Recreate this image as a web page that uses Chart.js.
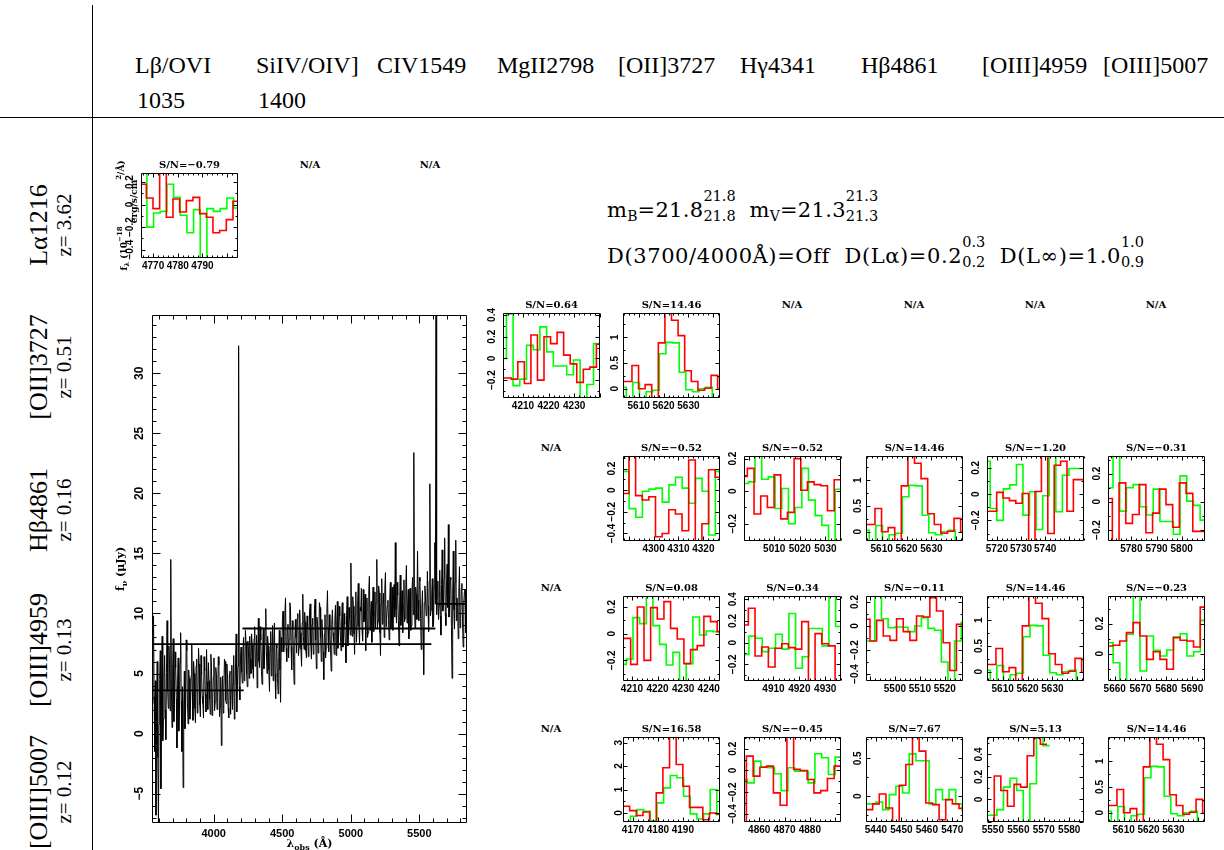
<!DOCTYPE html>
<html><head><meta charset="utf-8">
<script src="https://cdn.jsdelivr.net/npm/chart.js@4.4.1/dist/chart.umd.min.js"></script>
<style>
html,body{margin:0;padding:0;background:#fff;}
#wrap{position:relative;width:1224px;height:850px;overflow:hidden;background:#fff;}
#wrap canvas{position:absolute;}
.t{position:absolute;white-space:nowrap;color:#000;line-height:1;}
.hdr{font-family:"Liberation Serif";font-size:24px;}
.rl{font-family:"Liberation Serif";font-size:26px;transform:translate(-50%,-50%) rotate(-90deg);}
.rz{font-family:"Liberation Serif";font-size:21px;transform:translate(-50%,-50%) rotate(-90deg);}
.na{font-family:"DejaVu Serif";font-weight:bold;font-size:10px;transform:translate(-50%,-50%);}
.mag{font-family:"DejaVu Serif";font-size:21px;letter-spacing:0.3px;}
.mag2{letter-spacing:0.6px;}
.mag .sb{font-size:14px;vertical-align:-4px;line-height:1;letter-spacing:0;}
.stk{position:relative;display:inline-block;font-size:14.5px;line-height:1;letter-spacing:0;}
.stk .ph{visibility:hidden;}
.stk .u{position:absolute;left:0;top:-16px;}
.stk .d{position:absolute;left:0;top:4px;}
.ln{position:absolute;background:#000;}
</style></head>
<body><div id="wrap"></div>
<script>
// ---------------- text content ----------------
const headerLine1 = ['Lβ/OVI','SiIV/OIV]','CIV1549','MgII2798','[OII]3727','Hγ4341','Hβ4861','[OIII]4959','[OIII]5007'];
const headerLine2 = ['1035','1400','','','','','','',''];
const rowLines = ['Lα1216','[OII]3727','Hβ4861','[OIII]4959','[OIII]5007'];
const rowRedshifts = ['3.62','0.51','0.16','0.13','0.12'];

// ---------------- panel A : Lα z=3.62, Lβ/OVI ----------------
const pA_sn = 'S/N=−0.79';
const pA_x = [4765.1, 4804.4];
const pA_y = [-0.474, 0.28];
const pA_xt = [4770, 4780, 4790];
const pA_yt = [-0.4, -0.2, 0, 0.2];
const pA_redBin = [4764.56, 2.7];
const pA_red = [0.18, 0.058, -0.036, 0.35, -0.113, 0.05, -0.066, 0.035, 0.064, -0.08, -0.113, -0.25, -0.23, -0.134, 0.03];
const pA_greenBin = [4764.8, 2.7];
const pA_green = [0.35, -0.2, -0.075, -0.06, 0.18, 0.064, -0.095, -0.25, -0.045, -0.55, -0.036, -0.06, -0.036, 0.058, -0.03];

// ---------------- panel B : [OII] z=0.51, MgII ----------------
const pB_sn = 'S/N=0.64';
const pB_x = [4202.2, 4240.1];
const pB_y = [-0.364, 0.418];
const pB_xt = [4210, 4220, 4230];
const pB_yt = [-0.2, 0, 0.2, 0.4];
const pB_redBin = [4200.3, 2.56];
const pB_red = [-0.18, -0.18, -0.19, -0.03, -0.23, 0.215, -0.2, 0.2, 0.136, 0.24, 0.03, -0.05, -0.22, -0.1, -0.08, 0.13];
const pB_greenBin = [4200.9, 2.62];
const pB_green = [0.0, 0.41, -0.25, -0.19, 0.12, 0.08, 0.29, 0.06, -0.07, -0.07, -0.15, -0.015, -0.4, -0.24, 0.136];

// ---------------- shared panel : S/N=14.46 (line at 5620 Å) ----------------
const pS_sn = 'S/N=14.46';
const pS_x = [5603.7, 5642.7];
const pS_y = [-0.18, 1.47];
const pS_xt = [5610, 5620, 5630];
const pS_yt = [0, 0.5, 1];
const pS_redBin = [5602.0, 2.65];
const pS_red = [0.14, 0.14, 0.45, 0.0, 0.08, -0.2, 0.89, 1.5, 1.33, 1.03, 0.35, 0.14, -0.03, 0.01, 0.26, -0.01];
const pS_greenBin = [5602.35, 2.66];
const pS_green = [0.03, -0.2, 0.12, -0.2, -0.06, -0.03, 0.68, 0.9, 0.89, 0.32, -0.02, -0.06, 0.0, 0.03, -0.2];

// ---------------- panel C : Hβ z=0.16, [OII] ----------------
const pC_sn = 'S/N=−0.52';
const pC_x = [4287.7, 4326.7];
const pC_y = [-0.47, 0.317];
const pC_xt = [4300, 4310, 4320];
const pC_yt = [-0.4, -0.2, 0, 0.2];
const pC_redBin = [4287.43, 2.667];
const pC_red = [-0.03, 0.35, -0.05, -0.09, -0.06, -0.43, -0.4, -0.18, -0.22, -0.375, 0.28, -0.5, -0.31, 0.19, 0.12];
const pC_greenBin = [4287.5, 2.667];
const pC_green = [0.175, -0.17, -0.25, -0.01, 0.01, 0.02, -0.11, 0.05, 0.12, 0.02, -0.12, 0.11, -0.01, -0.415, 0.175];

// ---------------- panel D : Hβ z=0.16, Hγ ----------------
const pD_sn = 'S/N=−0.52';
const pD_x = [4998.2, 5036.1];
const pD_y = [-0.306, 0.216];
const pD_xt = [5010, 5020, 5030];
const pD_yt = [-0.2, 0, 0.2];
const pD_redBin = [4996.9, 2.61];
const pD_red = [0.09, 0.14, -0.14, -0.03, -0.1, 0.1, -0.17, -0.13, 0.2, 0.006, 0.057, 0.04, 0.033, -0.12, 0.07];
const pD_greenBin = [4997.3, 2.61];
const pD_green = [0.047, 0.057, 0.23, 0.073, 0.088, -0.106, 0.016, -0.2, -0.1, 0.14, -0.055, -0.15, -0.21, -0.32, 0.012];

// ---------------- panel F : Hβ z=0.16, [OIII]4959 ----------------
const pF_sn = 'S/N=−1.20';
const pF_x = [5715.9, 5756.1];
const pF_y = [-0.357, 0.29];
const pF_xt = [5720, 5730, 5740];
const pF_yt = [-0.2, 0, 0.2];
const pF_redBin = [5714.6, 2.65];
const pF_red = [-0.13, -0.13, 0.013, -0.03, -0.05, -0.07, 0.005, -0.4, 0.02, 0.3, -0.3, 0.22, 0.25, -0.13, 0.11, 0.11];
const pF_greenBin = [5714.5, 2.72];
const pF_green = [0.25, -0.11, -0.2, 0.04, 0.07, 0.225, -0.16, 0.018, -0.27, -0.013, 0.3, -0.134, 0.144, 0.195, 0.195];

// ---------------- panel G : Hβ z=0.16, [OIII]5007 ----------------
const pG_sn = 'S/N=−0.31';
const pG_x = [5770.7, 5809.3];
const pG_y = [-0.278, 0.325];
const pG_xt = [5780, 5790, 5800];
const pG_yt = [-0.2, 0, 0.2];
const pG_redBin = [5769.77, 2.667];
const pG_red = [0.024, -0.3, 0.134, -0.153, -0.09, 0.122, -0.22, -0.08, 0.09, -0.02, -0.18, 0.134, 0.06, -0.21, -0.21];
const pG_greenBin = [5770.03, 2.667];
const pG_green = [0.1, 0.35, -0.066, 0.1, 0.122, -0.035, -0.094, 0.09, -0.14, -0.14, -0.23, 0.184, 0.005, -0.025, -0.13];

// ---------------- panel H : [OIII]4959 z=0.13, [OII] ----------------
const pH_sn = 'S/N=0.08';
const pH_x = [4206.5, 4244.4];
const pH_y = [-0.355, 0.2825];
const pH_xt = [4210, 4220, 4230, 4240];
const pH_yt = [-0.2, 0, 0.2];
const pH_redBin = [4204.3, 2.6];
const pH_red = [-0.035, -0.035, -0.23, 0.2, -0.2, 0.195, 0.11, 0.24, 0.04, -0.04, -0.225, -0.12, -0.09, 0.13, 0.09, 0.015];
const pH_greenBin = [4205.2, 2.6];
const pH_green = [-0.23, -0.19, 0.12, 0.075, 0.3, 0.06, -0.08, -0.235, -0.14, -0.4, -0.225, 0.125, -0.01, 0.02, 0.015];

// ---------------- panel I : [OIII]4959 z=0.13, Hγ ----------------
const pI_sn = 'S/N=0.34';
const pI_x = [4898.6, 4936.1];
const pI_y = [-0.354, 0.43];
const pI_xt = [4910, 4920, 4930];
const pI_yt = [-0.2, 0, 0.2, 0.4];
const pI_redBin = [4897.7, 2.58];
const pI_red = [0.163, 0.317, -0.123, -0.04, -0.225, -0.052, -0.01, -0.046, -0.06, 0.194, -0.4, 0.083, -0.01, -0.03, -0.4];
const pI_greenBin = [4897.9, 2.58];
const pI_green = [-0.108, 0.06, 0.04, -0.083, -0.052, 0.077, -0.06, 0.268, -0.237, -0.13, 0.13, 0.13, -0.03, 0.45, 0.148];

// ---------------- panel J : [OIII]4959 z=0.13, Hβ ----------------
const pJ_sn = 'S/N=−0.11';
const pJ_x = [5488.4, 5527.3];
const pJ_y = [-0.458, 0.25];
const pJ_xt = [5500, 5510, 5520];
const pJ_yt = [-0.4, -0.2, 0, 0.2];
const pJ_redBin = [5487.33, 2.667];
const pJ_red = [0.056, -0.125, 0.047, -0.083, -0.12, 0.061, -0.047, -0.12, 0.083, 0.075, 0.236, 0.125, -0.14, -0.37, 0.014];
const pJ_greenBin = [5486.6, 2.667];
const pJ_green = [-0.125, -0.125, 0.3, 0.061, -0.014, -0.008, -0.01, -0.047, 0.0, 0.07, -0.02, -0.035, -0.3, -0.5, -0.125, 0.03];

// ---------------- panel L : [OIII]4959 z=0.13, [OIII]5007 ----------------
const pL_sn = 'S/N=−0.23';
const pL_x = [5657.4, 5695.0];
const pL_y = [-0.182, 0.384];
const pL_xt = [5660, 5670, 5680, 5690];
const pL_yt = [0, 0.2];
const pL_redBin = [5656.75, 2.6];
const pL_red = [0.051, 0.056, 0.084, 0.14, 0.207, 0.118, -0.038, 0.013, -0.038, -0.104, 0.107, 0.089, 0.084, 0.044, 0.31];
const pL_greenBin = [5656.8, 2.6];
const pL_green = [0.073, -0.06, -0.2, 0.129, 0.4, -0.115, 0.118, 0.022, -0.016, 0.024, 0.11, 0.133, -0.016, 0.013, 0.222];

// ---------------- panel M : [OIII]5007 z=0.12, [OII] ----------------
const pM_sn = 'S/N=16.58';
const pM_x = [4166.0, 4204.9];
const pM_y = [-0.386, 3.24];
const pM_xt = [4170, 4180, 4190];
const pM_yt = [0, 1, 2, 3];
const pM_redBin = [4166.0, 2.667];
const pM_red = [0.286, 0.1, -0.11, 0.043, -0.45, 0.857, 1.93, 3.5, 2.07, 1.14, 0.24, 0.24, -0.29, 0.0, -0.04];
const pM_greenBin = [4166.3, 2.667];
const pM_green = [-0.45, -0.14, 0.14, 0.07, -0.33, 0.43, 1.07, 1.6, 1.5, 0.71, -0.04, -0.26, -0.04, 1.0, -0.07];

// ---------------- panel N : [OIII]5007 z=0.12, Hγ ----------------
const pN_sn = 'S/N=−0.45';
const pN_x = [4854.0, 4892.3];
const pN_y = [-0.474, 0.308];
const pN_xt = [4860, 4870, 4880];
const pN_yt = [-0.4, -0.2, 0, 0.2];
const pN_redBin = [4852.27, 2.667];
const pN_red = [-0.5, 0.132, -0.052, 0.03, 0.04, -0.206, -0.32, 0.35, 0.01, 0.0, -0.083, -0.206, -0.185, -0.074, 0.04];
const pN_greenBin = [4852.67, 2.667];
const pN_green = [-0.083, -0.114, 0.086, 0.034, 0.025, -0.03, -0.185, 0.025, -0.006, -0.006, -0.114, 0.154, 0.117, -0.037, 0.123];

// ---------------- panel O : [OIII]5007 z=0.12, Hβ ----------------
const pO_sn = 'S/N=7.67';
const pO_x = [5436.1, 5474.2];
const pO_y = [-0.34, 0.783];
const pO_xt = [5440, 5450, 5460, 5470];
const pO_yt = [0, 0.5];
const pO_redBin = [5436.1, 2.61];
const pO_red = [-0.177, -0.1, 0.03, -0.155, -0.4, 0.146, 0.42, 0.85, 0.597, -0.088, -0.11, -0.31, -0.044, -0.1, -0.16];
const pO_greenBin = [5434.8, 2.61];
const pO_green = [-0.1, -0.1, -0.075, -0.177, 0.022, 0.133, 0.044, 0.56, 0.47, 0.47, -0.1, 0.088, -0.044, 0.088, -0.1, -0.2];

// ---------------- panel P : [OIII]5007 z=0.12, [OIII]4959 ----------------
const pP_sn = 'S/N=5.13';
const pP_x = [5547.7, 5585.8];
const pP_y = [-0.2, 0.555];
const pP_xt = [5550, 5560, 5570, 5580];
const pP_yt = [0, 0.2, 0.4];
const pP_redBin = [5547.96, 2.59];
const pP_red = [-0.25, 0.209, 0.08, -0.06, 0.134, 0.11, 0.388, 0.546, 0.49];
const pP_greenBin = [5546.4, 2.59];
const pP_green = [-0.14, -0.14, -0.09, 0.11, 0.188, 0.08, -0.25, 0.14, 0.6, 0.478];

// ---------------- large spectrum ----------------
const specRange = [3550, 5848];
const specYRange = [-7.45, 34.86];
const specXTicks = [4000, 4500, 5000, 5500];
const specYTicks = [-5, 0, 5, 10, 15, 20, 25, 30];
const specStart = 3552, specStep = 4.5;
const specFlux = [
  2.5, 7.2, 9.8, 3.1, -1.5, 4.4, -6.8, 1.5, 6.0, -2.0, -7.5, 0.8, 4.5, 6.9, -4.6, 3.2, 8.1, -0.6,
  1.2, 4.8, 6.5, 2.0, -0.5, 5.1, 9.4, 3.6, 2.1, 7.3, 5.8, 1.9, 14.5, 3.8, 0.5, 5.4, 7.9, 1.0, 2.4, 6.8,
  5.5, 2.9, -1.2, 4.1, 6.3, 0.2, 1.5, 5.9, 8.4, 2.7, -1.5, 3.9, -4.5, 2.2, 5.2, 0.4, 1.8, 7.8, 6.9, 2.6,
  0.8, 5.3, 4.6, 1.2, 2.2, 4.8, 7.4, 3.5, 1.1, 6.0, 5.0, 2.1, 0.9, 5.6, 6.2, 1.7, 3.0, 7.1, 5.8, 2.4,
  1.4, 6.5, 4.9, 3.1, 2.5, 1.3, 6.4, 5.2, 3.3, 1.8, 7.0, 4.3, 2.0, 5.9, 4.4, 2.9, 1.6, 6.6, 5.5, 1.5, 3.0, 4.7,
  6.3, 1.9, 2.6, 5.5, 4.9, 2.0, 3.1, 6.4, 5.7, 1.4, 2.2, 4.7, -1.0, 3.6, 4.8, 1.7, 3.4, 6.2, 6.0, 2.8,
  2.5, 5.8, 4.6, 2.1, 1.3, 4.9, 5.2, 1.6, 3.6, 5.7, 2.0, 4.1, 6.5, 1.2, 3.0, 5.9, 8.3, 1.8, 4.0, 5.6, 32.3, 3.9, 2.8, 6.3,
  7.2, 5.1, 4.2, 6.9, 8.0, 4.4, 5.3, 8.6, 7.6, 5.0, 3.9, 7.7, 6.8, 4.6, 8.1, 6.2, 5.0, 8.3, 7.4, 5.4, 4.6, 7.9, 8.9, 5.6,
  6.1, 8.2, 3.8, 6.7, 9.6, 6.0, 5.5, 8.9, 7.8, 5.2, 4.1, 7.0, 8.8, 5.4, 6.2, 8.7, 10.4, 6.9, 5.0, 8.1, 7.3, 5.3,
  3.5, 6.9, 8.5, 4.8, 6.6, 9.0, 4.4, 7.6, 9.2, 5.0, 2.9, 7.4, 7.1, 4.6, 3.3, 6.4, 8.6, 5.3, 2.6, 8.0, 6.8, 9.5,
  10.2, 6.8, 7.4, 9.9, 11.3, 7.1, 6.0, 8.8, 9.1, 6.3, 7.8, 10.9, 10.6, 7.2, 5.3, 9.4, 8.7, 6.1, 4.1, 7.5, 9.5, 8.0,
  6.7, 9.6, 10.0, 6.5, 7.2, 10.3, 8.4, 7.0, 5.6, 9.2, 11.6, 8.1, 7.0, 10.1, 9.3, 6.9, 6.3, 9.8, 8.9, 6.4, 7.5, 10.2,
  10.8, 7.4, 6.2, 9.1, 9.6, 6.6, 7.3, 10.4, 11.2, 7.8, 5.4, 9.7, 9.0, 6.7, 7.9, 10.9, 10.5, 8.0, 6.0, 9.5, 8.2, 6.8,
  4.5, 8.3, 9.9, 6.3, 7.1, 10.0, 11.9, 8.7, 6.8, 9.9, 8.6, 7.0, 5.2, 9.1, 10.3, 8.4, 7.7, 6.6, 9.4, 10.7, 6.5, 9.0,
  11.0, 7.1, 8.0, 10.6, 9.8, 8.1, 6.9, 9.4, 10.9, 7.2, 7.6, 10.0, 9.1, 7.5, 5.9, 9.8, 11.4, 7.3, 8.3, 10.5, 9.6, 8.2,
  14.2, 9.2, 8.1, 11.4, 10.6, 8.3, 6.6, 9.9, 11.8, 7.6, 9.0, 11.1, 12.5, 8.9, 7.4, 10.5, 10.2, 12.1, 8.8, 7.7, 12.0, 9.3,
  9.5, 11.6, 6.9, 10.2, 11.3, 8.0, 8.4, 11.9, 13.1, 8.6, 9.9, 11.0, 7.6, 10.4, 12.2, 8.5, 10.1, 11.8, 8.7, 10.9,
  14.5, 8.8, 9.3, 12.3, 11.7, 8.4, 6.5, 10.8, 12.9, 9.1, 10.4, 11.7, 8.0, 12.0, 13.4, 8.9, 9.7, 10.6, 11.1, 9.5, 7.8, 11.3, 12.6, 8.7, 10.0, 12.2,
  8.6, 11.0, 12.4, 9.7, 15.9, 10.3, 9.2, 12.6, 11.5, 9.4, 7.3, 10.8, 13.2, 9.0, 10.1, 11.9, 8.4, 10.7, 12.8, 9.3, 9.6, 12.4,
  14.0, 9.2, 10.7, 12.0, 7.9, 10.9, 12.1, 8.6, 9.0, 11.8, 13.0, 9.9, 23.4, 10.6, 8.8, 12.2, 11.6, 9.5, 15.2, 11.1,
  9.4, 13.0, 12.7, 9.6, 7.0, 10.4, 11.9, 8.8, 4.9, 10.9, 12.3, 11.2, 9.8, 9.9, 13.5, 10.6, 8.5, 12.7, 20.8, 9.8, 10.3, 11.6, 12.9, 8.9,
  9.1, 12.2, 15.9, 10.8, 36.0, 9.9, 11.4, 12.7, 9.5, 10.6, 13.6, 9.8, 8.2, 12.4, 15.3, 10.2, 10.6, 12.9, 16.3, 10.0,
  9.0, 12.3, 14.1, 10.5, 17.4, 9.7, 10.2, 13.0, 12.8, 8.9, 4.6, 11.6, 15.2, 10.3, 8.7, 12.6, 16.1, 9.4, 11.3, 10.5,
  7.9, 11.8, 13.9, 8.8, 9.6, 12.1, 12.5, 9.3, 7.2, 10.8, 11.8, 12.0, 8.4, 9.1, 10.9
];
// continuum levels: [start Å, end Å, level]
const contBlue = [3550, 4219, 3.6];
const contWide = [3550, 5588, 7.45];
const contRed = [4210, 5617, 8.75];
const contFar = [5618, 5848, 10.8];

// ---------------- figure layout ----------------
const colLeft = [141, 262, 382, 503, 623, 744, 866, 987, 1108];
const rowTop = [173, 313, 456, 596, 737];
const rowLabelY = [225, 367, 510, 650, 792];
const headerX = [135, 256, 377, 497, 618, 740, 861, 982, 1103];

const panels = [
  {row:0,col:0,sn:pA_sn,xr:pA_x,yr:pA_y,xt:pA_xt,yt:pA_yt,yMaj:0.2,rb:pA_redBin,r:pA_red,gb:pA_greenBin,g:pA_green,yw:34,ytitle:true},
  {row:1,col:3,sn:pB_sn,xr:pB_x,yr:pB_y,xt:pB_xt,yt:pB_yt,yMaj:0.2,rb:pB_redBin,r:pB_red,gb:pB_greenBin,g:pB_green},
  {row:1,col:4,sn:pS_sn,xr:pS_x,yr:pS_y,xt:pS_xt,yt:pS_yt,yMaj:0.5,rb:pS_redBin,r:pS_red,gb:pS_greenBin,g:pS_green},
  {row:2,col:4,sn:pC_sn,xr:pC_x,yr:pC_y,xt:pC_xt,yt:pC_yt,yMaj:0.2,rb:pC_redBin,r:pC_red,gb:pC_greenBin,g:pC_green},
  {row:2,col:5,sn:pD_sn,xr:pD_x,yr:pD_y,xt:pD_xt,yt:pD_yt,yMaj:0.2,rb:pD_redBin,r:pD_red,gb:pD_greenBin,g:pD_green},
  {row:2,col:6,sn:pS_sn,xr:pS_x,yr:pS_y,xt:pS_xt,yt:pS_yt,yMaj:0.5,rb:pS_redBin,r:pS_red,gb:pS_greenBin,g:pS_green},
  {row:2,col:7,sn:pF_sn,xr:pF_x,yr:pF_y,xt:pF_xt,yt:pF_yt,yMaj:0.2,rb:pF_redBin,r:pF_red,gb:pF_greenBin,g:pF_green},
  {row:2,col:8,sn:pG_sn,xr:pG_x,yr:pG_y,xt:pG_xt,yt:pG_yt,yMaj:0.2,rb:pG_redBin,r:pG_red,gb:pG_greenBin,g:pG_green},
  {row:3,col:4,sn:pH_sn,xr:pH_x,yr:pH_y,xt:pH_xt,yt:pH_yt,yMaj:0.2,rb:pH_redBin,r:pH_red,gb:pH_greenBin,g:pH_green},
  {row:3,col:5,sn:pI_sn,xr:pI_x,yr:pI_y,xt:pI_xt,yt:pI_yt,yMaj:0.2,rb:pI_redBin,r:pI_red,gb:pI_greenBin,g:pI_green},
  {row:3,col:6,sn:pJ_sn,xr:pJ_x,yr:pJ_y,xt:pJ_xt,yt:pJ_yt,yMaj:0.2,rb:pJ_redBin,r:pJ_red,gb:pJ_greenBin,g:pJ_green},
  {row:3,col:7,sn:pS_sn,xr:pS_x,yr:pS_y,xt:pS_xt,yt:pS_yt,yMaj:0.5,rb:pS_redBin,r:pS_red,gb:pS_greenBin,g:pS_green},
  {row:3,col:8,sn:pL_sn,xr:pL_x,yr:pL_y,xt:pL_xt,yt:pL_yt,yMaj:0.2,rb:pL_redBin,r:pL_red,gb:pL_greenBin,g:pL_green},
  {row:4,col:4,sn:pM_sn,xr:pM_x,yr:pM_y,xt:pM_xt,yt:pM_yt,yMaj:1,rb:pM_redBin,r:pM_red,gb:pM_greenBin,g:pM_green},
  {row:4,col:5,sn:pN_sn,xr:pN_x,yr:pN_y,xt:pN_xt,yt:pN_yt,yMaj:0.2,rb:pN_redBin,r:pN_red,gb:pN_greenBin,g:pN_green},
  {row:4,col:6,sn:pO_sn,xr:pO_x,yr:pO_y,xt:pO_xt,yt:pO_yt,yMaj:0.5,rb:pO_redBin,r:pO_red,gb:pO_greenBin,g:pO_green},
  {row:4,col:7,sn:pP_sn,xr:pP_x,yr:pP_y,xt:pP_xt,yt:pP_yt,yMaj:0.2,rb:pP_redBin,r:pP_red,gb:pP_greenBin,g:pP_green},
  {row:4,col:8,sn:pS_sn,xr:pS_x,yr:pS_y,xt:pS_xt,yt:pS_yt,yMaj:0.5,rb:pS_redBin,r:pS_red,gb:pS_greenBin,g:pS_green}
];
const naCells = [[0,1],[0,2],[1,5],[1,6],[1,7],[1,8],[2,3],[3,3],[4,3]];

// ---------------- helpers ----------------
const wrap = document.getElementById('wrap');
function addDiv(cls, html, x, y) {
  const d = document.createElement('div');
  d.className = 't ' + cls; d.innerHTML = html;
  d.style.left = x + 'px'; d.style.top = y + 'px';
  wrap.appendChild(d); return d;
}
function line(x, y, w, h) {
  const d = document.createElement('div');
  d.className = 'ln';
  d.style.left = x + 'px'; d.style.top = y + 'px'; d.style.width = w + 'px'; d.style.height = h + 'px';
  wrap.appendChild(d);
}
function stepPoints(bin, vals) {
  const pts = vals.map((v, k) => ({x: bin[0] + k * bin[1], y: v}));
  pts.push({x: bin[0] + vals.length * bin[1], y: vals[vals.length - 1]});
  return pts;
}
function fmtTick(v) {
  if (Math.abs(v) < 1e-9) return '0';
  return String(Math.round(v * 1000) / 1000).replace('-', '\u2212');
}
function eachTick(min, max, minor, major, fn) {
  const k0 = Math.ceil(min / minor - 1e-6), k1 = Math.floor(max / minor + 1e-6);
  for (let k = k0; k <= k1; k++) {
    const v = k * minor, r = v / major;
    fn(v, Math.abs(r - Math.round(r)) < 1e-6);
  }
}

// frame + inward ticks on all sides
const frameTicks = {
  id: 'frameTicks',
  afterDatasetsDraw(chart, args, o) {
    const {ctx, chartArea: a} = chart;
    const xs = chart.scales.x, ys = chart.scales.y;
    const L = Math.round(a.left) + 0.5, R = Math.round(a.right) - 0.5;
    const T = Math.round(a.top) + 0.5, B = Math.round(a.bottom) - 0.5;
    ctx.save();
    ctx.strokeStyle = '#000'; ctx.lineWidth = o.lw;
    ctx.beginPath();
    ctx.rect(L, T, R - L, B - T);
    eachTick(xs.min, xs.max, o.xMin, o.xMaj, (v, maj) => {
      const px = Math.round(xs.getPixelForValue(v)) + 0.5, len = maj ? o.maj : o.min;
      ctx.moveTo(px, B); ctx.lineTo(px, B - len);
      ctx.moveTo(px, T); ctx.lineTo(px, T + len);
    });
    eachTick(ys.min, ys.max, o.yMin, o.yMaj, (v, maj) => {
      const py = Math.round(ys.getPixelForValue(v)) + 0.5, len = maj ? o.maj : o.min;
      ctx.moveTo(L, py); ctx.lineTo(L + len, py);
      ctx.moveTo(R, py); ctx.lineTo(R - len, py);
    });
    ctx.stroke();
    ctx.restore();
  }
};

// axis titles with sub/superscripts
const richText = {
  id: 'richText',
  afterDraw(chart, args, o) {
    if (!o || !o.items) return;
    const {ctx, chartArea: a} = chart;
    for (const it of o.items) {
      let x, y, rot = 0;
      if (it.axis === 'y') { x = a.left - it.off; y = (a.top + a.bottom) / 2; rot = -Math.PI / 2; }
      else { x = (a.left + a.right) / 2; y = a.bottom + it.off; }
      ctx.save();
      ctx.translate(x, y); ctx.rotate(rot);
      ctx.fillStyle = '#000'; ctx.textBaseline = 'alphabetic'; ctx.textAlign = 'left';
      const fnt = p => 'bold ' + (p[2] || it.size) + 'px "' + it.family + '"';
      let w = 0;
      for (const p of it.parts) { ctx.font = fnt(p); w += ctx.measureText(p[0]).width; }
      let cx = -w / 2;
      for (const p of it.parts) { ctx.font = fnt(p); ctx.fillText(p[0], cx, p[1]); cx += ctx.measureText(p[0]).width; }
      ctx.restore();
    }
  }
};

Chart.defaults.font.family = 'Liberation Sans';
Chart.defaults.color = '#000';

function axisOpts(range, ticks, fit, tickFont, extra) {
  return Object.assign({
    type: 'linear', bounds: 'data', min: range[0], max: range[1],
    grid: {display: false, drawTicks: false}, border: {display: false},
    afterBuildTicks: s => { s.ticks = ticks.map(v => ({value: v})); },
    afterFit: fit,
  }, extra, {ticks: Object.assign({autoSkip: false, color: '#000', font: tickFont, callback: v => fmtTick(v)}, extra.ticks)});
}

function makeSmall(p) {
  const YW = p.yw || 24, TH = 18, XH = 16, RP = 12, PW = 97, PH = 85;
  const cv = document.createElement('canvas');
  cv.width = YW + PW + RP; cv.height = TH + PH + XH;
  cv.style.left = (colLeft[p.col] - YW) + 'px';
  cv.style.top = (rowTop[p.row] - TH) + 'px';
  wrap.appendChild(cv);
  const tf = {family: 'Liberation Sans', size: 10, weight: 'bold'};
  const items = p.ytitle ? [{axis: 'y', off: 14, family: 'DejaVu Serif', size: 9,
    parts: [['f', 0], ['λ', 2, 7], [' (10', 0], ['\u221218', -5, 7], [' erg/s/cm', 10], ['2', -6, 7], ['/Å)', -3]]}] : [];
  new Chart(cv.getContext('2d'), {
    type: 'line',
    data: {datasets: [
      {data: stepPoints(p.rb, p.r), borderColor: '#ff0000', borderWidth: 1.6, stepped: 'before', pointRadius: 0, fill: false},
      {data: stepPoints(p.gb, p.g), borderColor: '#00ff00', borderWidth: 1.6, stepped: 'before', pointRadius: 0, fill: false}
    ]},
    options: {
      responsive: false, animation: false, events: [], parsing: false,
      layout: {padding: {left: 0, right: RP, top: 0, bottom: 0}},
      plugins: {
        legend: {display: false}, tooltip: {enabled: false},
        title: {display: true, text: p.sn, fullSize: false, color: '#000',
          font: {family: 'DejaVu Serif', size: 10, weight: 'bold', lineHeight: 1.2}, padding: {top: 4, bottom: 2}},
        frameTicks: {xMaj: 10, xMin: 2, yMaj: p.yMaj, yMin: p.yMaj / 2, maj: 4, min: 2, lw: 1},
        richText: {items: items}
      },
      scales: {
        x: axisOpts(p.xr, p.xt, s => { s.height = XH; s.paddingLeft = 0; s.paddingRight = 0; }, tf,
          {ticks: {maxRotation: 0, minRotation: 0, padding: 2}}),
        y: axisOpts(p.yr, p.yt, s => { s.width = YW; s.paddingTop = 0; s.paddingBottom = 0; }, tf,
          {ticks: {minRotation: 90, maxRotation: 90, crossAlign: 'center', padding: 1}})
      }
    },
    plugins: [frameTicks, richText]
  });
}

function makeBig() {
  const YW = 48, TP = 10, XH = 27, RP = 13, PW = 315, PH = 508;
  const cv = document.createElement('canvas');
  cv.width = YW + PW + RP; cv.height = TP + PH + XH;
  cv.style.left = (152 - YW) + 'px'; cv.style.top = (315 - TP) + 'px';
  wrap.appendChild(cv);
  const tfx = {family: 'Liberation Sans', size: 11, weight: 'bold'};
  const tfy = {family: 'Liberation Sans', size: 12, weight: 'bold'};
  const spec = specFlux.map((v, i) => ({x: specStart + i * specStep, y: v}));
  const seg = c => [{x: c[0], y: c[2]}, {x: c[1], y: c[2]}];
  const lineDs = (d, w) => ({data: d, borderColor: '#000', borderWidth: w, pointRadius: 0, fill: false, tension: 0});
  new Chart(cv.getContext('2d'), {
    type: 'line',
    data: {datasets: [
      lineDs(spec, 1),
      lineDs(seg(contBlue), 1.8), lineDs(seg(contWide), 1.8), lineDs(seg(contRed), 1.8), lineDs(seg(contFar), 1.8)
    ]},
    options: {
      responsive: false, animation: false, events: [], parsing: false,
      layout: {padding: {left: 0, right: RP, top: TP, bottom: 0}},
      plugins: {
        legend: {display: false}, tooltip: {enabled: false},
        frameTicks: {xMaj: 500, xMin: 100, yMaj: 5, yMin: 1, maj: 8, min: 4, lw: 1},
        richText: {items: [
          {axis: 'y', off: 28, family: 'DejaVu Serif', size: 11, parts: [['f', 0], ['ν', 3, 8], [' (μJy)', 0]]},
          {axis: 'x', off: 24, family: 'DejaVu Serif', size: 11, parts: [['λ', 0], ['obs', 3, 8], [' (Å)', 0]]}
        ]}
      },
      scales: {
        x: axisOpts(specRange, specXTicks, s => { s.height = XH; s.paddingLeft = 0; s.paddingRight = 0; }, tfx,
          {ticks: {maxRotation: 0, minRotation: 0, padding: 4}}),
        y: axisOpts(specYRange, specYTicks, s => { s.width = YW; s.paddingTop = 0; s.paddingBottom = 0; }, tfy,
          {ticks: {minRotation: 90, maxRotation: 90, crossAlign: 'center', padding: 5}})
      }
    },
    plugins: [frameTicks, richText]
  });
}

// ---------------- build figure ----------------
line(92, 5, 1, 845);
line(0, 117, 1224, 1);
headerLine1.forEach((s, i) => addDiv('hdr', s, headerX[i], 53));
headerLine2.forEach((s, i) => { if (s) addDiv('hdr', s, headerX[i] + 2, 88); });
rowLines.forEach((s, i) => {
  addDiv('rl', s, 39, rowLabelY[i]);
  addDiv('rz', 'z= ' + rowRedshifts[i], 64, rowLabelY[i]);
});
naCells.forEach(c => addDiv('na', 'N/A', colLeft[c[1]] + 48, rowTop[c[0]] - 8));

const stk = (a, b) => '<span class="stk"><span class="ph">' + a + '</span><span class="u">' + a + '</span><span class="d">' + b + '</span></span>';
addDiv('mag', 'm<span class="sb">B</span>=21.8' + stk('21.8', '21.8') + '&nbsp;&nbsp;m<span class="sb">V</span>=21.3' + stk('21.3', '21.3'), 607, 200);
addDiv('mag mag2', 'D(3700/4000Å)=Off&nbsp; D(Lα)=0.2' + stk('0.3', '0.2') + '&nbsp; D(L∞)=1.0' + stk('1.0', '0.9'), 607, 246);

panels.forEach(makeSmall);
makeBig();
</script>
</body></html>
